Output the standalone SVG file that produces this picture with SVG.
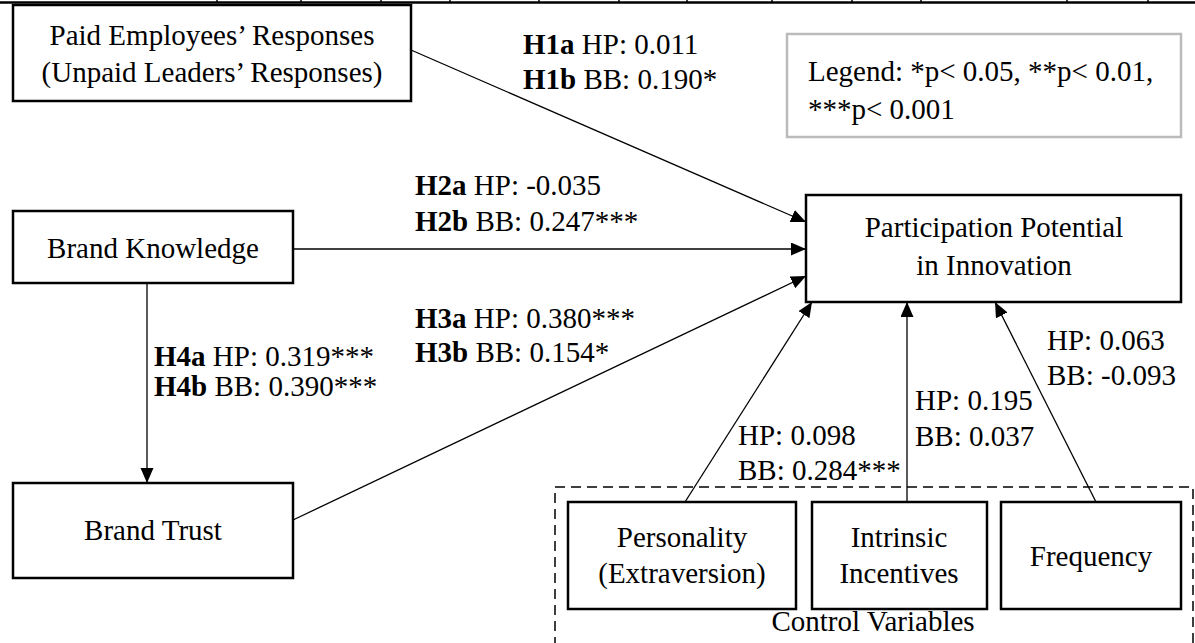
<svg xmlns="http://www.w3.org/2000/svg" width="1195" height="643" viewBox="0 0 1195 643">
<defs>
<marker id="ah" markerUnits="userSpaceOnUse" markerWidth="16" markerHeight="14" refX="15" refY="6.5" orient="auto">
<path d="M0,0 L15,6.5 L0,13 z" fill="#000"/>
</marker>
<style>
text{font-family:"Liberation Serif","Times New Roman",serif;font-size:29px;fill:#000}
.b{font-weight:bold}
.box{fill:#fff;stroke:#000;stroke-width:2.5}
.c{stroke:#000;stroke-width:1.3;fill:none;marker-end:url(#ah)}
.m{text-anchor:middle}
</style>
</defs>
<rect width="1195" height="643" fill="#fff"/>
<g id="ruler" stroke="#000">
<line x1="0" y1="2.5" x2="1195" y2="2.5" stroke-width="2.5"/>
<path d="M217,0V2M301,0V2M381,0V2M450,0V2M539,0V2M619,0V2M687,0V2M772,0V2M852,0V2M921,0V2M1067,0V2M1148,0V2" stroke-width="1.5"/>
</g>
<g id="connectors">
<line class="c" x1="411" y1="50" x2="806" y2="222"/>
<line class="c" x1="293" y1="249" x2="806" y2="249"/>
<line class="c" x1="293" y1="520" x2="806" y2="276"/>
<line class="c" x1="147" y1="283" x2="147" y2="483"/>
<line class="c" x1="685" y1="502" x2="812" y2="302"/>
<line class="c" x1="907" y1="502" x2="907" y2="302"/>
<line class="c" x1="1096" y1="502" x2="995" y2="302"/>
</g>
<g id="labels">
<text x="523" y="54"><tspan class="b">H1a</tspan> HP: 0.011</text>
<text x="523" y="89"><tspan class="b">H1b</tspan> BB: 0.190*</text>
<text x="415" y="195"><tspan class="b">H2a</tspan> HP: -0.035</text>
<text x="415" y="231"><tspan class="b">H2b</tspan> BB: 0.247***</text>
<text x="415" y="328"><tspan class="b">H3a</tspan> HP: 0.380***</text>
<text x="415" y="362"><tspan class="b">H3b</tspan> BB: 0.154*</text>
<text x="154" y="366"><tspan class="b">H4a</tspan> HP: 0.319***</text>
<text x="154" y="396"><tspan class="b">H4b</tspan> BB: 0.390***</text>
<text x="738" y="445">HP: 0.098</text>
<text x="738" y="480">BB: 0.284***</text>
<text x="915" y="410">HP: 0.195</text>
<text x="915" y="446">BB: 0.037</text>
<text x="1047" y="350">HP: 0.063</text>
<text x="1047" y="385">BB: -0.093</text>
</g>
<g id="legend">
<rect x="787" y="34" width="394" height="103" fill="#fff" stroke="#bbb" stroke-width="2.5"/>
<text x="808" y="81">Legend: *p&lt; 0.05, **p&lt; 0.01,</text>
<text x="808" y="119">***p&lt; 0.001</text>
</g>
<g id="paid">
<rect class="box" x="13" y="5" width="398" height="96"/>
<text class="m" x="212" y="45">Paid Employees’ Responses</text>
<text class="m" x="212" y="82">(Unpaid Leaders’ Responses)</text>
</g>
<g id="knowledge">
<rect class="box" x="13" y="211" width="280" height="72"/>
<text class="m" x="153" y="258">Brand Knowledge</text>
</g>
<g id="trust">
<rect class="box" x="13" y="483" width="280" height="95"/>
<text class="m" x="153" y="540">Brand Trust</text>
</g>
<g id="ppi">
<rect class="box" x="806" y="195" width="375" height="107"/>
<text class="m" x="994" y="237">Participation Potential</text>
<text class="m" x="994" y="275">in Innovation</text>
</g>
<g id="controls">
<rect x="555" y="487" width="638" height="170" fill="none" stroke="#000" stroke-width="1.5" stroke-dasharray="10,6"/>
<text class="m" x="873" y="631">Control Variables</text>
</g>
<g id="personality">
<rect class="box" x="568" y="502" width="228" height="107"/>
<text class="m" x="682" y="547">Personality</text>
<text class="m" x="682" y="583">(Extraversion)</text>
</g>
<g id="intrinsic">
<rect class="box" x="812" y="502" width="175" height="107"/>
<text class="m" x="899" y="547">Intrinsic</text>
<text class="m" x="899" y="583">Incentives</text>
</g>
<g id="frequency">
<rect class="box" x="1001" y="502" width="180" height="107"/>
<text class="m" x="1091" y="566">Frequency</text>
</g>
</svg>
